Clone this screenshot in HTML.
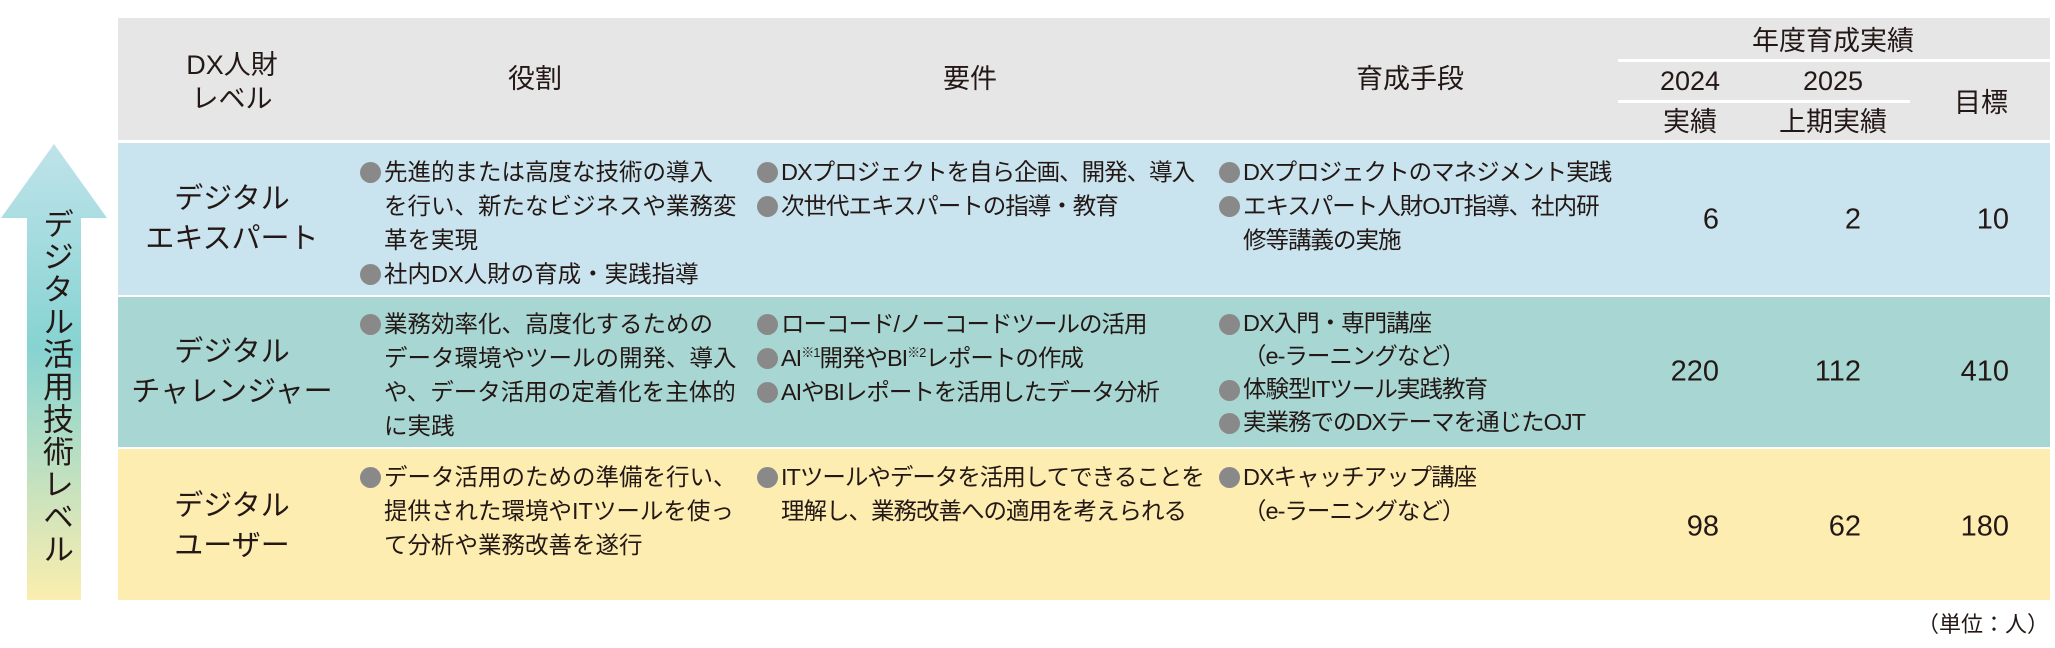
<!DOCTYPE html>
<html><head><meta charset="utf-8">
<style>
*{margin:0;padding:0;box-sizing:border-box}
body{width:2055px;height:648px;background:#fff;position:relative;overflow:hidden;font-family:"Liberation Sans","Noto Sans CJK JP",sans-serif;color:#231815}
.abs{position:absolute}
.hdr{left:118px;top:18px;width:1932px;height:122px;background:#e6e6e6}
.row{left:118px;width:1932px}
.r1{top:143px;height:152px;background:#c9e4ee}
.r2{top:297px;height:150px;background:#a8d6d3}
.r3{top:449px;height:151px;background:#fdedb1}
.h{font-size:27px;text-align:center;line-height:34px;transform:translateX(-50%);white-space:nowrap}
.lvl{font-size:29px;text-align:center;line-height:40px;transform:translate(-50%,-50%);white-space:nowrap}
.num{font-size:29px;text-align:right;transform:translateY(-50%);white-space:nowrap}
ul{list-style:none;font-size:23.5px;line-height:34px;white-space:nowrap}
li{padding-left:24px;position:relative}
li:before{content:"";position:absolute;left:0;top:7px;width:21px;height:21px;border-radius:50%;background:#898989}
sup{font-size:13px;vertical-align:9px;line-height:0}
.line{background:#fff;height:3px}
.t{letter-spacing:-1px}
</style></head><body>
<div class="abs hdr"></div>
<div class="abs row r1"></div>
<div class="abs row r2"></div>
<div class="abs row r3"></div>

<svg class="abs" style="left:0;top:140px" width="110" height="462">
<defs><linearGradient id="g" x1="0" y1="0" x2="0" y2="1">
<stop offset="0" stop-color="#bfe3ea"/><stop offset="0.45" stop-color="#86d3d2"/><stop offset="1" stop-color="#fbeeae"/></linearGradient></defs>
<polygon points="54,4 107,78 81,78 81,460 27,460 27,78 1,78" fill="url(#g)"/>
</svg>
<div class="abs" style="left:38px;top:208px;writing-mode:vertical-rl;font-size:31px;letter-spacing:1.5px;line-height:34px">デジタル活用技術レベル</div>

<div class="abs h" style="left:232px;top:48px">DX人財<br>レベル</div>
<div class="abs h" style="left:535px;top:62px">役割</div>
<div class="abs h" style="left:970px;top:62px">要件</div>
<div class="abs h" style="left:1410px;top:62px">育成手段</div>
<div class="abs h" style="left:1833px;top:24px">年度育成実績</div>
<div class="abs line" style="left:1618px;top:59px;width:432px"></div>
<div class="abs h" style="left:1690px;top:64px">2024</div>
<div class="abs h" style="left:1833px;top:64px">2025</div>
<div class="abs line" style="left:1618px;top:100px;width:292px"></div>
<div class="abs h" style="left:1690px;top:105px">実績</div>
<div class="abs h" style="left:1833px;top:105px">上期実績</div>
<div class="abs h" style="left:1981px;top:86px">目標</div>

<div class="abs lvl" style="left:232px;top:219px">デジタル<br>エキスパート</div>
<div class="abs lvl" style="left:232px;top:372px">デジタル<br>チャレンジャー</div>
<div class="abs lvl" style="left:232px;top:526px">デジタル<br>ユーザー</div>

<ul class="abs" style="left:360px;top:155px"><li>先進的または高度な技術の導入<br>を行い、新たなビジネスや業務変<br>革を実現</li><li>社内DX人財の育成・実践指導</li></ul>
<ul class="abs t" style="left:757px;top:155px"><li>DXプロジェクトを自ら企画、開発、導入</li><li>次世代エキスパートの指導・教育</li></ul>
<ul class="abs t" style="left:1219px;top:155px"><li>DXプロジェクトのマネジメント実践</li><li>エキスパート人財OJT指導、社内研<br>修等講義の実施</li></ul>

<ul class="abs" style="left:360px;top:307px"><li>業務効率化、高度化するための<br>データ環境やツールの開発、導入<br>や、データ活用の定着化を主体的<br>に実践</li></ul>
<ul class="abs t" style="left:757px;top:307px"><li>ローコード/ノーコードツールの活用</li><li>AI<sup>※1</sup>開発やBI<sup>※2</sup>レポートの作成</li><li>AIやBIレポートを活用したデータ分析</li></ul>
<ul class="abs t" style="left:1219px;top:307px;line-height:33px"><li>DX入門・専門講座<br>（e-ラーニングなど）</li><li>体験型ITツール実践教育</li><li>実業務でのDXテーマを通じたOJT</li></ul>

<ul class="abs" style="left:360px;top:460px"><li>データ活用のための準備を行い、<br>提供された環境やITツールを使っ<br>て分析や業務改善を遂行</li></ul>
<ul class="abs t" style="left:757px;top:460px"><li>ITツールやデータを活用してできることを<br>理解し、業務改善への適用を考えられる</li></ul>
<ul class="abs t" style="left:1219px;top:460px"><li>DXキャッチアップ講座<br>（e-ラーニングなど）</li></ul>

<div class="abs num" style="right:336px;top:220px">6</div>
<div class="abs num" style="right:194px;top:220px">2</div>
<div class="abs num" style="right:46px;top:220px">10</div>
<div class="abs num" style="right:336px;top:372px">220</div>
<div class="abs num" style="right:194px;top:372px">112</div>
<div class="abs num" style="right:46px;top:372px">410</div>
<div class="abs num" style="right:336px;top:527px">98</div>
<div class="abs num" style="right:194px;top:527px">62</div>
<div class="abs num" style="right:46px;top:527px">180</div>

<div class="abs" style="right:6px;top:607px;font-size:22px;white-space:nowrap">（単位：人）</div>
</body></html>
